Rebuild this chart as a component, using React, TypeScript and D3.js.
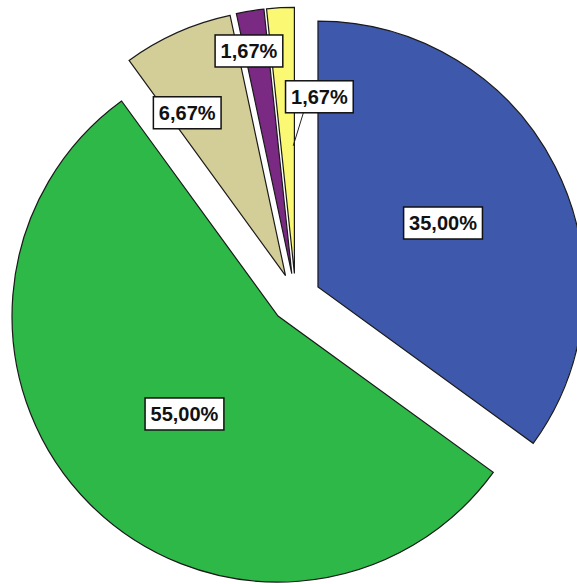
import React from "react";
import * as d3 from "d3";

const categories = ["A", "B", "C", "D", "E"];
const percentages = [35.0, 55.0, 6.67, 1.67, 1.67];
const labels = ["35,00%", "55,00%", "6,67%", "1,67%", "1,67%"];
const colors = ["#3e58ac", "#2eb848", "#d3ce97", "#7b2a84", "#fbf873"];

// layout (not data)
const W = 577;
const H = 584;
const CX = 295.7;
const CY = 298.4;
const R = 266;
const EXPLODE = 25;
// label placement in polar coords around the pie center: [radius, angle in degrees]
const labelPolar: [number, number][] = [
  [165.5, 62.9],
  [160.4, 223.9],
  [215, 329.7],
  [251.8, 349.3],
  [203, 6.7],
];
const leaderIdx = 4;

export default function App() {
  const pie = d3
    .pie<number>()
    .sort(null)
    .value((d) => d)
    .startAngle(0)
    .endAngle(2 * Math.PI);
  const arcs = pie(percentages);
  const arc = d3.arc<d3.PieArcDatum<number>>().innerRadius(0).outerRadius(R);

  const fontSize = 20;
  const boxH = 32;
  const measure = (s: string) => {
    // approximate Liberation Sans Bold widths
    let w = 0;
    for (const ch of s) {
      if (ch === ",") w += 0.278;
      else if (ch === "%") w += 0.889;
      else w += 0.556;
    }
    return w * fontSize;
  };

  return (
    <svg
      width={W}
      height={H}
      style={{ position: "absolute", left: 0, top: 0, background: "#fff" }}
    >
      <g transform={`translate(${CX},${CY})`}>
        {arcs.map((a, i) => {
          const mid = (a.startAngle + a.endAngle) / 2;
          const dx = Math.sin(mid) * EXPLODE;
          const dy = -Math.cos(mid) * EXPLODE;
          return (
            <path
              key={categories[i]}
              d={arc(a) || ""}
              transform={`translate(${dx},${dy})`}
              fill={colors[i]}
              stroke="#1a1a1a"
              strokeWidth={1.2}
              strokeLinejoin="miter"
            />
          );
        })}
        {arcs.map((a, i) => {
          if (i !== leaderIdx) return null;
          const mid = (a.startAngle + a.endAngle) / 2;
          const ox = Math.sin(mid) * EXPLODE;
          const oy = -Math.cos(mid) * EXPLODE;
          const ang = a.endAngle - 0.009;
          const ex = ox + Math.sin(ang) * R * 0.48;
          const ey = oy - Math.cos(ang) * R * 0.48;
          const [lr, la] = labelPolar[i];
          const lx = Math.sin((la * Math.PI) / 180) * lr;
          const ly = -Math.cos((la * Math.PI) / 180) * lr;
          return (
            <line
              key="leader"
              x1={lx - 16}
              y1={ly + boxH / 2}
              x2={ex}
              y2={ey}
              stroke="#222"
              strokeWidth={1}
            />
          );
        })}
        {arcs.map((a, i) => {
          const [lr, la] = labelPolar[i];
          const lx = Math.sin((la * Math.PI) / 180) * lr;
          const ly = -Math.cos((la * Math.PI) / 180) * lr;
          const tw = measure(labels[i]);
          const bw = tw + 11;
          return (
            <g key={"l" + i} transform={`translate(${lx},${ly})`}>
              <rect
                x={-bw / 2}
                y={-boxH / 2}
                width={bw}
                height={boxH}
                fill="#fff"
                stroke="#111"
                strokeWidth={1.5}
              />
              <text
                x={0}
                y={0}
                dy="0.36em"
                textAnchor="middle"
                fontFamily="'Liberation Sans', Arial, sans-serif"
                fontWeight="bold"
                fontSize={fontSize}
                fill="#111"
              >
                {labels[i]}
              </text>
            </g>
          );
        })}
      </g>
    </svg>
  );
}
